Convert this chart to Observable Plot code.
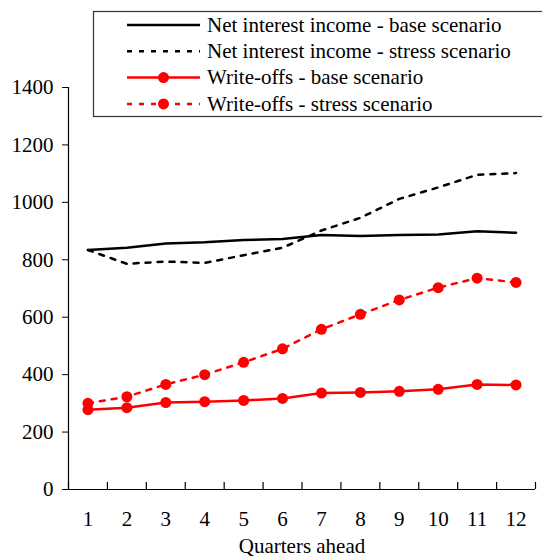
<!DOCTYPE html>
<html>
<head>
<meta charset="utf-8">
<script src="https://cdn.jsdelivr.net/npm/d3@7"></script>
<script src="https://cdn.jsdelivr.net/npm/@observablehq/plot@0.6"></script>
<style>
  html, body { margin: 0; padding: 0; background: #fff; }
</style>
</head>
<body>
<div id="wrap" style="position:relative;width:542px;height:559px;"></div>
<script>
const quarters = [1,2,3,4,5,6,7,8,9,10,11,12];
const niiBase   = [834, 842, 857, 861, 869, 872, 886, 883, 886, 888, 899, 894];
const niiStress = [834, 786, 794, 789, 816, 842, 902, 946, 1012, 1052, 1096, 1102];
const woBase    = [278, 285, 303, 306, 310, 317, 336, 338, 342, 349, 366, 364];
const woStress  = [300, 323, 366, 400, 443, 490, 558, 610, 660, 703, 736, 721];
const yTicks = [0, 200, 400, 600, 800, 1000, 1200, 1400];
const xTitle = "Quarters ahead";
const seriesNames = [
  "Net interest income - base scenario",
  "Net interest income - stress scenario",
  "Write-offs - base scenario",
  "Write-offs - stress scenario"
];

const toRows = (vals) => quarters.map((q, i) => ({q, v: vals[i]}));
const boundaries = d3.range(0.5, 13, 1);
const font = "'Liberation Serif', serif";

const chart = Plot.plot({
  width: 542,
  height: 559,
  marginLeft: 68,
  marginRight: 7,
  marginTop: 87,
  marginBottom: 70,
  style: {fontFamily: font, fontSize: "21px", color: "#000", background: "#fff", overflow: "visible"},
  x: {domain: [0.5, 12.5]},
  y: {domain: [0, 1400]},
  marks: [
    Plot.axisY({ticks: yTicks, tickSize: 6, tickPadding: 9, label: null, fontSize: 21, tickFormat: d => String(d)}),
    Plot.axisX({ticks: quarters, tickSize: 0, tickPadding: 22, label: null, fontSize: 21, tickFormat: d => String(d)}),
    Plot.text([xTitle], {text: d => d, frameAnchor: "bottom", dy: 63, fontSize: 21, fill: "#000"}),
    Plot.ruleX([0.5], {y1: 0, y2: 1400, stroke: "#000", strokeWidth: 1.2}),
    Plot.ruleY([0], {stroke: "#000", strokeWidth: 1.2}),
    Plot.ruleX(boundaries, {x: d => d, y1: 0, y2: 0, insetTop: -7, stroke: "#000", strokeWidth: 1.2}),
    Plot.line(toRows(niiBase), {x: "q", y: "v", stroke: "#000", strokeWidth: 2.5}),
    Plot.line(toRows(niiStress), {x: "q", y: "v", stroke: "#000", strokeWidth: 2.5, strokeDasharray: "5,7"}),
    Plot.line(toRows(woBase), {x: "q", y: "v", stroke: "#ff0000", strokeWidth: 2.5}),
    Plot.dot(toRows(woBase), {x: "q", y: "v", fill: "#ff0000", r: 5.5}),
    Plot.line(toRows(woStress), {x: "q", y: "v", stroke: "#ff0000", strokeWidth: 2.5, strokeDasharray: "5,7"}),
    Plot.dot(toRows(woStress), {x: "q", y: "v", fill: "#ff0000", r: 5.5})
  ]
});

const wrap = document.getElementById("wrap");
wrap.appendChild(chart);

// Legend drawn as an SVG overlay (built with d3)
const styles = [
  {stroke: "#000", dash: null, dot: false},
  {stroke: "#000", dash: "5,7", dot: false},
  {stroke: "#ff0000", dash: null, dot: true},
  {stroke: "#ff0000", dash: "5,7", dot: true}
];
const lg = d3.create("svg")
  .attr("width", 449).attr("height", 107)
  .style("position", "absolute").style("left", "93px").style("top", "11px")
  .style("overflow", "visible");
lg.append("rect")
  .attr("x", 0.5).attr("y", 0.5).attr("width", 460).attr("height", 105)
  .attr("fill", "#fff").attr("stroke", "#333").attr("stroke-width", 1.2);
const rows = lg.selectAll("g.row").data(seriesNames).join("g")
  .attr("transform", (d, i) => `translate(0, ${14 + i * 26.3})`);
rows.append("line")
  .attr("x1", 34).attr("x2", 107).attr("y1", 0).attr("y2", 0)
  .attr("stroke", (d, i) => styles[i].stroke).attr("stroke-width", 2.5)
  .attr("stroke-dasharray", (d, i) => styles[i].dash);
rows.filter((d, i) => styles[i].dot).append("circle")
  .attr("cx", 70.5).attr("cy", 0).attr("r", 5.5).attr("fill", "#ff0000");
rows.append("text")
  .attr("x", 114).attr("y", 0).attr("dy", "0.32em")
  .attr("font-family", "Liberation Serif, serif")
  .attr("font-size", 21).attr("fill", "#000")
  .text(d => d);
wrap.appendChild(lg.node());
</script>
</body>
</html>
